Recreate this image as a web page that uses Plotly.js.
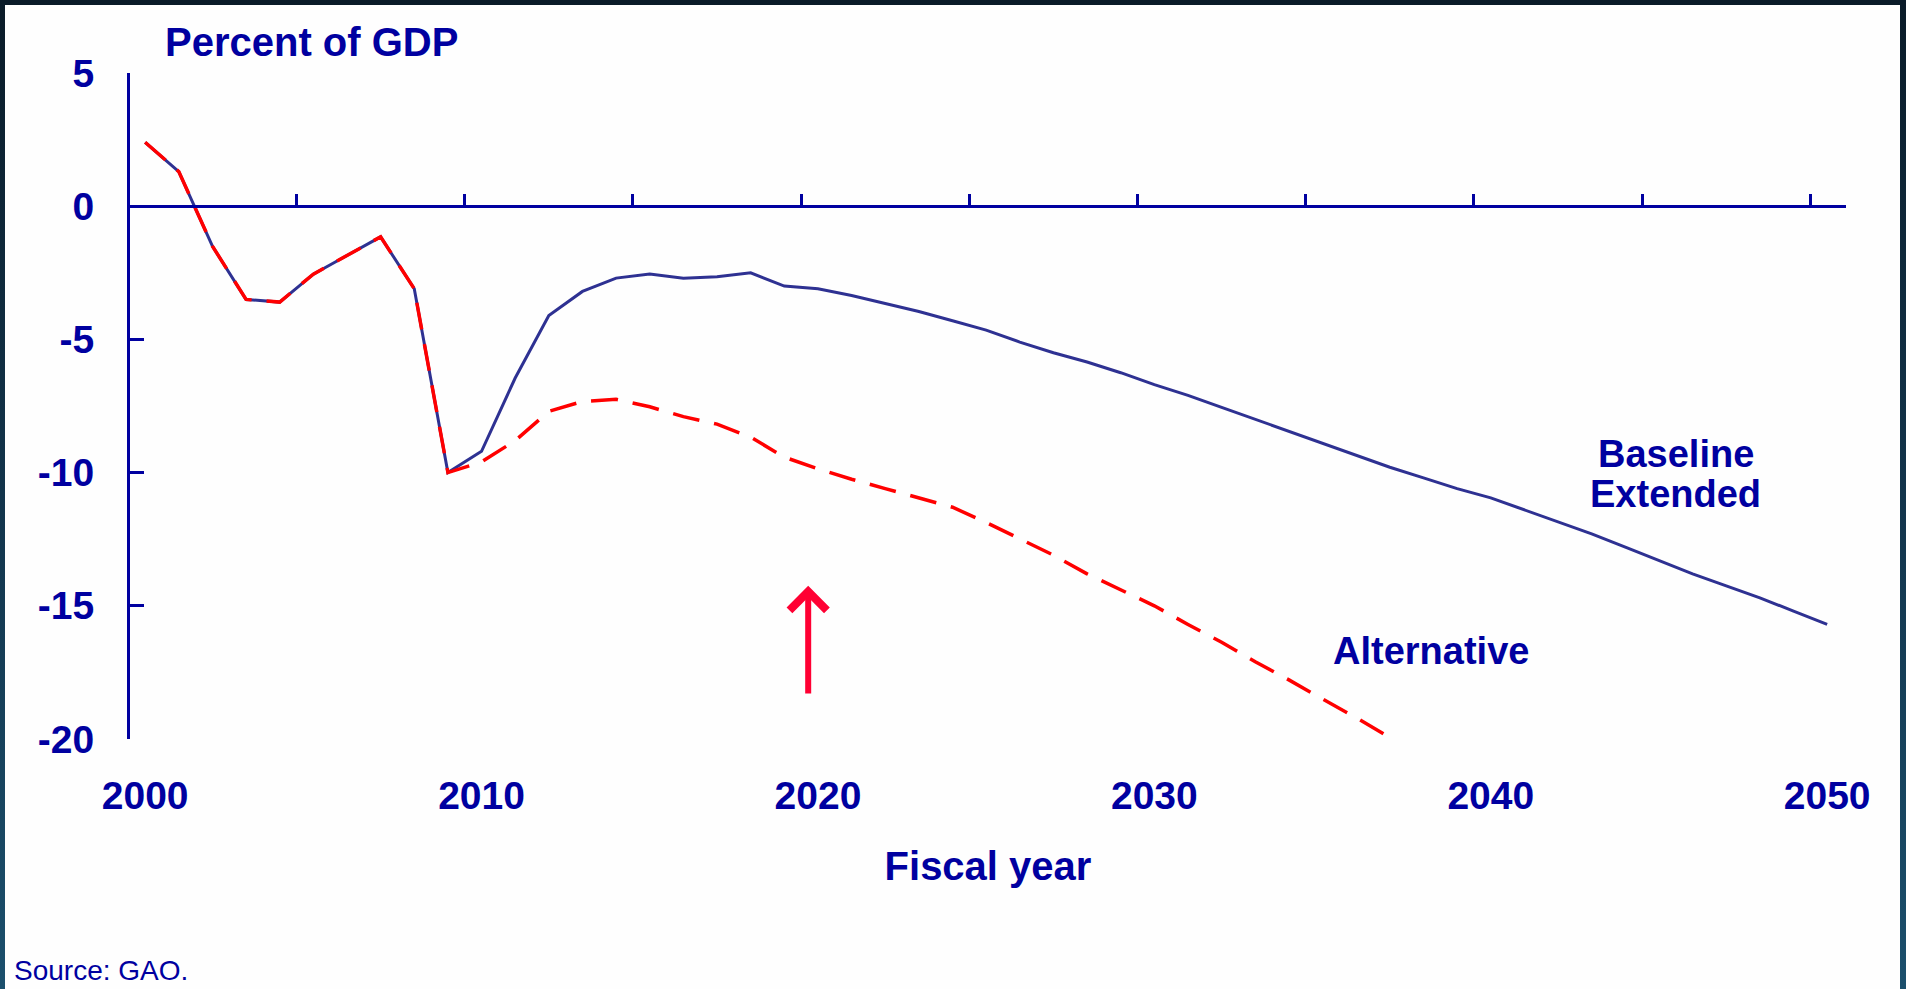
<!DOCTYPE html>
<html><head><meta charset="utf-8">
<script src="https://cdn.plot.ly/plotly-3.0.1.min.js"></script>
<style>
html,body{margin:0;padding:0;width:1906px;height:989px;overflow:hidden;background:linear-gradient(to bottom,#0a1b28 0%,#12344b 50%,#1b4f6c 100%);}
#chart{position:absolute;left:5px;top:5px;width:1895px;height:984px;}
</style></head><body><div id="chart"></div>
<script>
// Budget balance, percent of GDP
const baselineYears = [2000,2001,2002,2003,2004,2005,2006,2007,2008,2009,2010,2011,2012,2013,2014,2015,2016,2017,2018,2019,2020,2021,2022,2023,2024,2025,2026,2027,2028,2029,2030,2031,2032,2033,2034,2035,2036,2037,2038,2039,2040,2041,2042,2043,2044,2045,2046,2047,2048,2049,2050];
const baselineValues = [2.4,1.3,-1.5,-3.5,-3.6,-2.55,-1.85,-1.15,-3.1,-10.0,-9.2,-6.45,-4.1,-3.2,-2.7,-2.55,-2.7,-2.65,-2.5,-3.0,-3.1,-3.35,-3.65,-3.95,-4.3,-4.65,-5.1,-5.5,-5.85,-6.25,-6.7,-7.1,-7.55,-8.0,-8.45,-8.9,-9.35,-9.8,-10.2,-10.6,-10.95,-11.4,-11.85,-12.3,-12.8,-13.3,-13.8,-14.25,-14.7,-15.2,-15.7];
const alternativeYears = [2000,2001,2002,2003,2004,2005,2006,2007,2008,2009,2010,2011,2012,2013,2014,2015,2016,2017,2018,2019,2020,2021,2022,2023,2024,2025,2026,2027,2028,2029,2030,2031,2032,2033,2034,2035,2036,2037,2038];
const alternativeValues = [2.4,1.3,-1.5,-3.5,-3.6,-2.55,-1.85,-1.15,-3.1,-10.0,-9.6,-8.8,-7.7,-7.33,-7.25,-7.53,-7.9,-8.18,-8.67,-9.42,-9.86,-10.25,-10.6,-10.95,-11.3,-11.87,-12.5,-13.1,-13.8,-14.4,-15.0,-15.7,-16.37,-17.1,-17.78,-18.5,-19.2,-19.95,-20.5];
const xTickYears = [2000,2010,2020,2030,2040,2050];
const xTickLabels = ['2000','2010','2020','2030','2040','2050'];
const zeroLineTickYears = [2004.5,2009.5,2014.5,2019.5,2024.5,2029.5,2034.5,2039.5,2044.5,2049.5];
const yTickValues = [5,0,-5,-10,-15,-20];
const yTickLabels = ['5','0','-5','-10','-15','-20'];
const xRange = [1999.55, 2050.56];
const yRange = [-20, 5];

const navy = '#0000a0';
const font = 'Liberation Sans, Arial, Helvetica, sans-serif';

const traces = [
  {x: baselineYears, y: baselineValues, xaxis: 'x', yaxis: 'y', type: 'scatter', mode: 'lines',
   name: 'Baseline Extended', line: {color: '#2e3192', width: 3}},
  {x: alternativeYears, y: alternativeValues, xaxis: 'x2', yaxis: 'y', type: 'scatter', mode: 'lines',
   name: 'Alternative', line: {color: '#ff0000', width: 3.5, dash: '27px,15px'}}
];

const bold = (s) => ({family: font, size: s, color: navy, weight: 700});

const layout = {
  width: 1895, height: 984,
  margin: {l: 125, r: 54, t: 68, b: 250, autoexpand: false},
  paper_bgcolor: '#fefefe', plot_bgcolor: 'rgba(0,0,0,0)',
  showlegend: false, hovermode: false,
  font: {family: font, color: navy},
  xaxis: {range: xRange, tickmode: 'array', tickvals: xTickYears, ticktext: xTickLabels,
    showline: false, showgrid: false, zeroline: false, ticks: '', tickfont: bold(39),
    ticklabelstandoff: 30, automargin: false,
    title: {text: 'Fiscal year', font: bold(40), standoff: 35}},
  xaxis2: {overlaying: 'x', anchor: 'free', position: (0 - yRange[0]) / (yRange[1] - yRange[0]), side: 'top',
    range: xRange, tickmode: 'array', tickvals: zeroLineTickYears, showticklabels: false,
    ticks: 'outside', ticklen: 11, tickwidth: 3, tickcolor: navy,
    showline: true, linecolor: navy, linewidth: 3, showgrid: false, zeroline: false, automargin: false},
  yaxis: {range: yRange, tickmode: 'array', tickvals: yTickValues, ticktext: yTickLabels,
    ticks: 'inside', ticklen: 14, tickwidth: 3, tickcolor: navy,
    showline: true, linecolor: navy, linewidth: 3, showgrid: false, zeroline: false,
    tickfont: bold(39), ticklabelstandoff: 25, automargin: false},
  annotations: [
    {text: 'Percent of GDP', xref: 'paper', yref: 'paper', x: 0.0195, y: 1.0465, xanchor: 'left', yanchor: 'middle', showarrow: false, font: bold(40)},
    {text: 'Baseline', xref: 'x', yref: 'y', x: 2045.5, y: -9.32, xanchor: 'center', yanchor: 'middle', showarrow: false, font: bold(38)},
    {text: 'Extended', xref: 'x', yref: 'y', x: 2045.5, y: -10.79, xanchor: 'center', yanchor: 'middle', showarrow: false, font: bold(38)},
    {text: 'Alternative', xref: 'x', yref: 'y', x: 2038.23, y: -16.69, xanchor: 'center', yanchor: 'middle', showarrow: false, font: bold(38)},
    {text: 'Source: GAO.', xref: 'paper', yref: 'paper', x: -0.069, y: -0.347, xanchor: 'left', yanchor: 'middle', showarrow: false,
     font: {family: font, size: 28, color: navy}},
    {text: '', xref: 'x', yref: 'y', x: 2019.71, y: -14.25, axref: 'x', ayref: 'y', ax: 2019.71, ay: -18.35,
     showarrow: true, arrowhead: 4, arrowsize: 1.2, arrowwidth: 6, arrowcolor: '#ff0033', standoff: 0}
  ]
};

Plotly.newPlot('chart', traces, layout, {staticPlot: true, displayModeBar: false});
</script></body></html>
